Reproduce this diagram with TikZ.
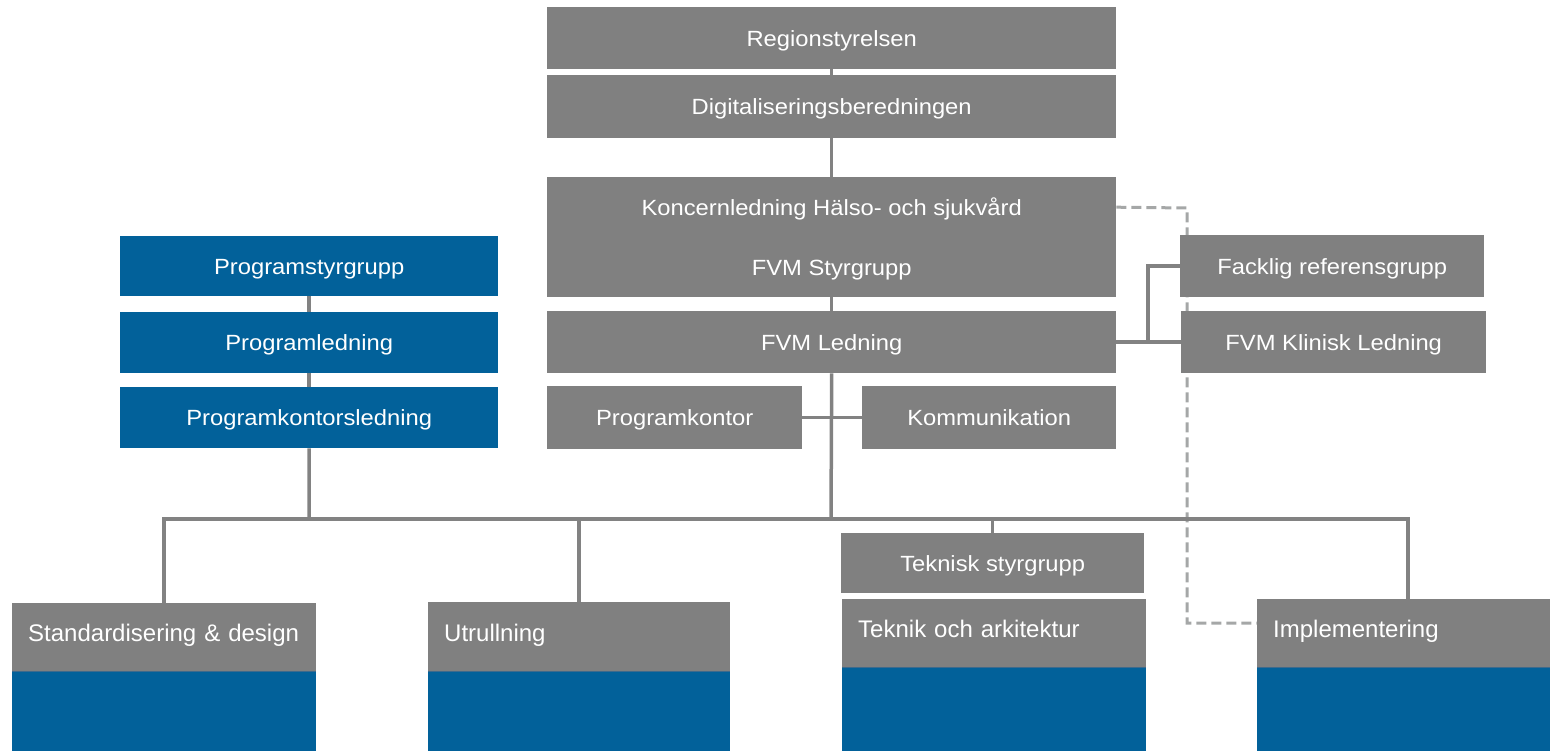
\documentclass[tikz,border=0pt]{standalone}
\usepackage{fontspec}
\setmainfont{Liberation Sans}
\usepackage{graphicx}
\definecolor{boxgray}{HTML}{808080}
\definecolor{boxblue}{HTML}{02619A}
\definecolor{linegray}{HTML}{828282}
\definecolor{dashgray}{HTML}{A5A7A7}
\definecolor{seamcol}{HTML}{3E6A8C}
\newcommand{\wide}[1]{\scalebox{1.08}[1]{#1}}
\pgfdeclarelayer{bg}
\pgfsetlayers{bg,main}
\tikzset{
  box/.style={fill=boxgray, text=white, inner sep=0pt, anchor=north west,
    font=\fontsize{22}{26}\selectfont, text height=16pt, text depth=0pt},
  bluebox/.style={box, fill=boxblue},
  unitbox/.style={box, font=\fontsize{24}{28}\selectfont, align=left, inner xsep=16pt, inner ysep=0pt,
    text height=17pt, text depth=8pt},
  unitbase/.style={fill=boxblue, inner sep=0pt, anchor=north west},
  seam/.style={draw=seamcol, line width=1.5pt},
  conn/.style={draw=linegray, line width=3.5pt},
  dashconn/.style={draw=dashgray, line width=3pt, dash pattern=on 10pt off 5pt},
}
\begin{document}
\begin{tikzpicture}[x=1pt,y=-1pt]
\useasboundingbox (0,0) rectangle (1550,751);

% central column
\node[box, minimum width=569pt, minimum height=62pt] (rs) at (547,7) {\wide{Regionstyrelsen}};
\node[box, minimum width=569pt, minimum height=63pt] (db) at (547,75) {\wide{Digitaliseringsberedningen}};
\node[box, minimum width=569pt, minimum height=60pt] (kl) at (547,177) {\wide{Koncernledning Hälso- och sjukvård}};
\node[box, minimum width=569pt, minimum height=60pt] (fs) at (547,237) {\wide{FVM Styrgrupp}};
\node[box, minimum width=569pt, minimum height=62pt] (fl) at (547,311) {\wide{FVM Ledning}};
\node[box, minimum width=255pt, minimum height=63pt] (pk) at (547,386) {\wide{Programkontor}};
\node[box, minimum width=254pt, minimum height=63pt] (ko) at (862,386) {\wide{Kommunikation}};

% right column
\node[box, minimum width=304pt, minimum height=62pt] (fr) at (1180,235) {\wide{Facklig referensgrupp}};
\node[box, minimum width=305pt, minimum height=62pt] (kli) at (1181,311) {\wide{FVM Klinisk Ledning}};

% left blue column
\node[bluebox, minimum width=378pt, minimum height=60pt] (ps) at (120,236) {\wide{Programstyrgrupp}};
\node[bluebox, minimum width=378pt, minimum height=61pt] (pl) at (120,312) {\wide{Programledning}};
\node[bluebox, minimum width=378pt, minimum height=61pt] (pkl) at (120,387) {\wide{Programkontorsledning}};

% technical steering group
\node[box, minimum width=303pt, minimum height=60pt] (ts) at (841,533) {\wide{Teknisk styrgrupp}};

% bottom units
\node[unitbox, text width=272pt, minimum height=68pt] (std) at (12,603) {Standardisering \& design};
\node[unitbase, minimum width=304pt, minimum height=80pt] (stdb) at (std.south west) {};
\node[unitbox, text width=270pt, minimum height=69pt] (utr) at (428,602) {Utrullning};
\node[unitbase, minimum width=302pt, minimum height=80pt] (utrb) at (utr.south west) {};
\node[unitbox, text width=272pt, minimum height=68pt] (ta) at (842,599) {Teknik och arkitektur};
\node[unitbase, minimum width=304pt, minimum height=84pt] (tab) at (ta.south west) {};
\node[unitbox, text width=261pt, minimum height=68pt] (impl) at (1257,599) {Implementering};
\node[unitbase, minimum width=293pt, minimum height=84pt] (implb) at (impl.south west) {};

\draw[seam] (stdb.north west) -- (stdb.north east);
\draw[seam] (utrb.north west) -- (utrb.north east);
\draw[seam] (tab.north west) -- (tab.north east);
\draw[seam] (implb.north west) -- (implb.north east);

% helper coordinates
\coordinate (busL) at (309,519);
\coordinate (busC) at (831,519);
\coordinate (tap) at (1148,342);
\coordinate (dc1) at (1187,208);
\coordinate (dc2) at (1187,623);
\coordinate (implTop) at (1408,599);

\begin{pgfonlayer}{bg}
  \draw[dashconn] (kl.east) -- (dc1) -- (dc2) -- (dc2 -| impl.west);
  \draw[conn] (rs.south) -- (db.north);
  \draw[conn] (db.south) -- (kl.north);
  \draw[conn] (fs.south) -- (fl.north);
  \draw[conn] (fl.south) -- (busC);
  \draw[conn] (pk.east) -- (ko.west);
  \draw[conn] (fl.east) -- (kli.west);
  \draw[conn] (tap) |- (fr.west);
  \draw[conn] (ps.south) -- (pl.north);
  \draw[conn] (pl.south) -- (pkl.north);
  \draw[conn] (pkl.south) -- (busL);
  \draw[conn] (busL) -| (std.north);
  \draw[conn] (busL) -- (busC);
  \draw[conn] (utr.north) -- (utr.north |- busC);
  \draw[conn] (busC) -| (ts.north);
  \draw[conn] (busC) -| (implTop);
\end{pgfonlayer}
\end{tikzpicture}
\end{document}
